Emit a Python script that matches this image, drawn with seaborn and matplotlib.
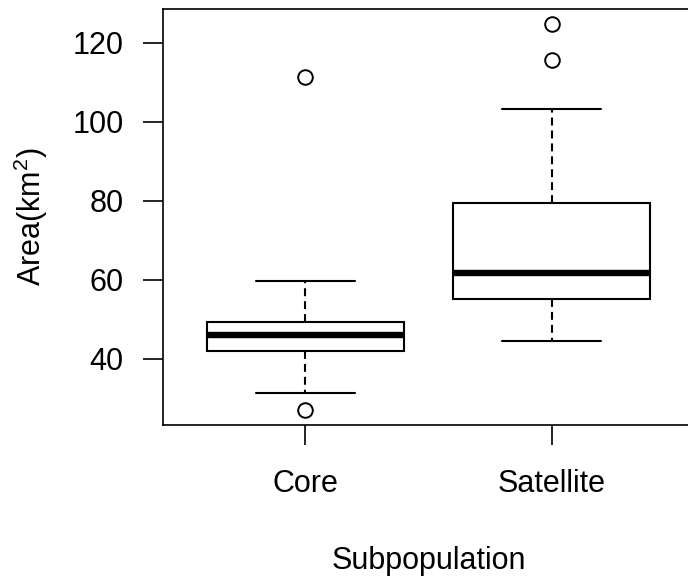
import numpy as np
import pandas as pd
import matplotlib
matplotlib.use("Agg")
import matplotlib.pyplot as plt
import seaborn as sns

# ---- values ----
categories = ["Core", "Satellite"]
lower_whisker = [31.2, 44.4]
q1 = [41.9, 55.2]
median = [45.9, 61.8]
q3 = [49.2, 79.3]
upper_whisker = [59.75, 103.1]
low_outliers = [[27.0], []]
high_outliers = [[111.4], [115.6, 124.66]]
y_ticks = [40, 60, 80, 100, 120]

# build a sample per group that reproduces exactly the read statistics
rows = []
for i, cat in enumerate(categories):
    vals = (low_outliers[i] + [lower_whisker[i]] + [q1[i]] * 5 + [median[i]] * 5
            + [q3[i]] * 5 + [upper_whisker[i]] + high_outliers[i])
    rows += [(cat, v) for v in vals]
df = pd.DataFrame(rows, columns=["Subpopulation", "Area"])

sns.set_style("ticks")
plt.rcParams["font.family"] = ["Liberation Sans", "DejaVu Sans"]
plt.rcParams["mathtext.fontset"] = "custom"
plt.rcParams["mathtext.rm"] = "Liberation Sans"
plt.rcParams["mathtext.it"] = "Liberation Sans:italic"
plt.rcParams["text.color"] = "black"
plt.rcParams["axes.labelcolor"] = "black"

fig = plt.figure(figsize=(6.88, 5.81), dpi=100)
ax = fig.add_axes([163 / 688, (581 - 425) / 581, (694 - 163) / 688, (425 - 9) / 581])

sns.boxplot(
    data=df, x="Subpopulation", y="Area", order=categories, ax=ax,
    color="white", linecolor="black", linewidth=1.5, width=0.8, whis=1.5,
    fliersize=10.5, saturation=1,
    medianprops=dict(linewidth=4.6, color="black", solid_capstyle="butt"),
    whiskerprops=dict(linestyle=(0, (3.8, 2.4)), linewidth=1.5),
    capprops=dict(linewidth=1.5),
    flierprops=dict(marker="o", markerfacecolor="none", markeredgecolor="black",
                    markeredgewidth=1.4),
)

ax.set_xlim(-0.577, 1.577)
ax.set_ylim(23.2, 128.5)
ax.set_yticks(y_ticks)
ax.set_yticklabels([str(t) for t in y_ticks])

for s in ax.spines.values():
    s.set_visible(True)
    s.set_linewidth(1.2)
    s.set_color("black")

ax.tick_params(axis="y", direction="out", length=14.4, width=1.2, pad=14,
               labelsize=22, colors="black")
ax.tick_params(axis="x", direction="out", length=14.4, width=1.2, pad=17,
               labelsize=22, colors="black")

ax.set_xlabel("Subpopulation", fontsize=22, color="black")
ax.set_ylabel("Area(km$^{2}$)", fontsize=22, color="black")
ax.xaxis.set_label_coords(0.5, -0.290)
ax.yaxis.set_label_coords(-0.212, 0.5)

fig.savefig("out.png", dpi=100, facecolor="white")
